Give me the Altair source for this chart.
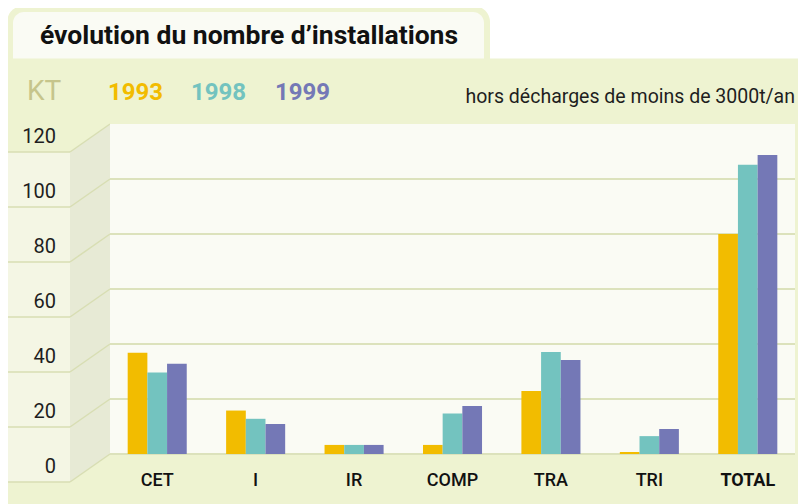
import altair as alt
import pandas as pd

# ---------------- data ----------------
categories = ["CET", "I", "IR", "COMP", "TRA", "TRI", "TOTAL"]
years = ["1993", "1998", "1999"]
values_1993 = [36.8, 15.8, 3.3, 3.3, 22.9, 0.7, 80.0]
values_1998 = [29.6, 12.8, 3.3, 14.7, 37.1, 6.5, 105.2]
values_1999 = [32.8, 10.9, 3.3, 17.5, 34.2, 9.1, 108.7]
y_ticks = [0, 20, 40, 60, 80, 100, 120]
year_colors = ["#F2BC00", "#73C3BF", "#7478B6"]

title_text = "évolution du nombre d’installations"
unit_text = "KT"
note_text = "hors décharges de moins de 3000t/an"

# ---------------- styles ----------------
PANEL = "#EEF3D1"
OFFWHITE = "#FAFBF4"
COLUMN = "#F4F6E4"
WALL = "#E7EAD5"
LINE = "#D8DEB3"
GRID = "#DCE2BC"
TEXT = "#1E1E1E"
KT_COL = "#C6C58B"
FONT = "Roboto"

OX, OY = 108, 124   # plot origin on the page
W, H = 689, 330
TOTAL_W, TOTAL_H = 790, 496


def px(x):
    return x - OX


def py(y):
    return y - OY


one = pd.DataFrame({"a": [0]})

rows = []
for yr, vals in zip(years, [values_1993, values_1998, values_1999]):
    for c, v in zip(categories, vals):
        rows.append({"cat": c, "year": yr, "value": v})
bars_df = pd.DataFrame(rows)
ticks_df = pd.DataFrame({"v": y_ticks})

ysc = alt.Scale(domain=[0, 120], nice=False, zero=False)


def rect(x1, y1, x2, y2, color, **kw):
    return alt.Chart(one).mark_rect(color=color, strokeWidth=0, **kw).encode(
        x=alt.value(px(x1)), x2=alt.value(px(x2)),
        y=alt.value(py(y1)), y2=alt.value(py(y2)))


def text(s, x, y, size, color, weight="normal", align="left"):
    return alt.Chart(one).mark_text(
        text=s, align=align, baseline="alphabetic", fontSize=size,
        font=FONT, fontWeight=weight, color=color).encode(
        x=alt.value(px(x)), y=alt.value(py(y)))


panel = rect(7, 58.5, 820, 520, PANEL)
tab_outer = rect(7, 6, 490, 80, PANEL, cornerRadiusTopLeft=16, cornerRadiusTopRight=16)
tab_inner = rect(13, 12, 484, 58.5, OFFWHITE, cornerRadiusTopLeft=11, cornerRadiusTopRight=11)
column = rect(7, 152, 70, 482, COLUMN)

wall = alt.Chart(one).mark_point(
    shape="M-20,-151L20,-179L20,151L-20,179Z", size=4, filled=True,
    color=WALL, opacity=1, strokeOpacity=0).encode(
    x=alt.value(px(90)), y=alt.value(py(303)))

shift = 28 * 120 / 330
lines_h = alt.Chart(ticks_df).transform_calculate(vl=f"datum.v - {shift}").mark_rule(
    color=LINE, strokeWidth=1.5).encode(
    x=alt.value(px(7)), x2=alt.value(px(70)),
    y=alt.Y("vl:Q", scale=ysc, axis=None))
lines_d = alt.Chart(ticks_df).transform_calculate(vl=f"datum.v - {shift}").mark_rule(
    color=LINE, strokeWidth=1.5).encode(
    x=alt.value(px(70)), x2=alt.value(px(110)),
    y=alt.Y("vl:Q", scale=ysc, axis=None), y2=alt.Y2("v:Q"))

plot_bg = rect(110, 124, 795, 454, OFFWHITE)

grid = alt.Chart(ticks_df).transform_filter("datum.v < 120").mark_rule(
    color=GRID, strokeWidth=2).encode(
    x=alt.value(px(110)), x2=alt.value(px(795)),
    y=alt.Y("v:Q", scale=ysc, axis=None))

tick_labels = alt.Chart(ticks_df).mark_text(
    align="right", baseline="alphabetic", dy=19.3, fontSize=20, font=FONT,
    color=TEXT).encode(
    x=alt.value(px(56)), y=alt.Y("v:Q", scale=ysc, axis=None), text="v:Q")

bars = alt.Chart(bars_df).mark_bar(strokeWidth=0).encode(
    x=alt.X("cat:N", sort=categories,
            scale=alt.Scale(paddingInner=0.4, paddingOuter=0.2),
            axis=alt.Axis(title=None, labelAngle=0, domain=False, ticks=False,
                          tickSize=0, grid=False, labelPadding=31.7, zindex=1,
                          labelBaseline="alphabetic", labelFont=FONT,
                          labelFontSize=18, labelColor="#111",
                          labelFontWeight={"condition": {"test": "datum.value === 'TOTAL'", "value": "bold"},
                                           "value": 500})),
    xOffset=alt.XOffset("year:N", sort=years),
    y=alt.Y("value:Q", scale=ysc, axis=None),
    color=alt.Color("year:N", scale=alt.Scale(domain=years, range=year_colors), legend=None),
)

title = text(title_text, 249, 44, 26.5, "#111", weight="bold", align="center")
kt = text(unit_text, 27, 100, 28, KT_COL)
leg = [text(yr, x, 100, 24, col, weight="bold")
       for yr, x, col in zip(years, [108, 191, 275], year_colors)]
note = text(note_text, 795, 103, 19.5, TEXT, align="right")

chart = alt.layer(
    panel, tab_outer, tab_inner, column, wall, lines_h, lines_d, plot_bg, grid,
    bars, tick_labels, title, kt, *leg, note
).properties(
    width=W, height=H,
    padding={"left": OX - 8, "top": OY - 8, "right": TOTAL_W - (OX - 8) - W,
             "bottom": TOTAL_H - (OY - 8) - H},
    autosize=alt.AutoSizeParams(type="none"),
).configure_view(stroke=None)

chart.save("out.html", embed_options={"renderer": "svg", "actions": False})
